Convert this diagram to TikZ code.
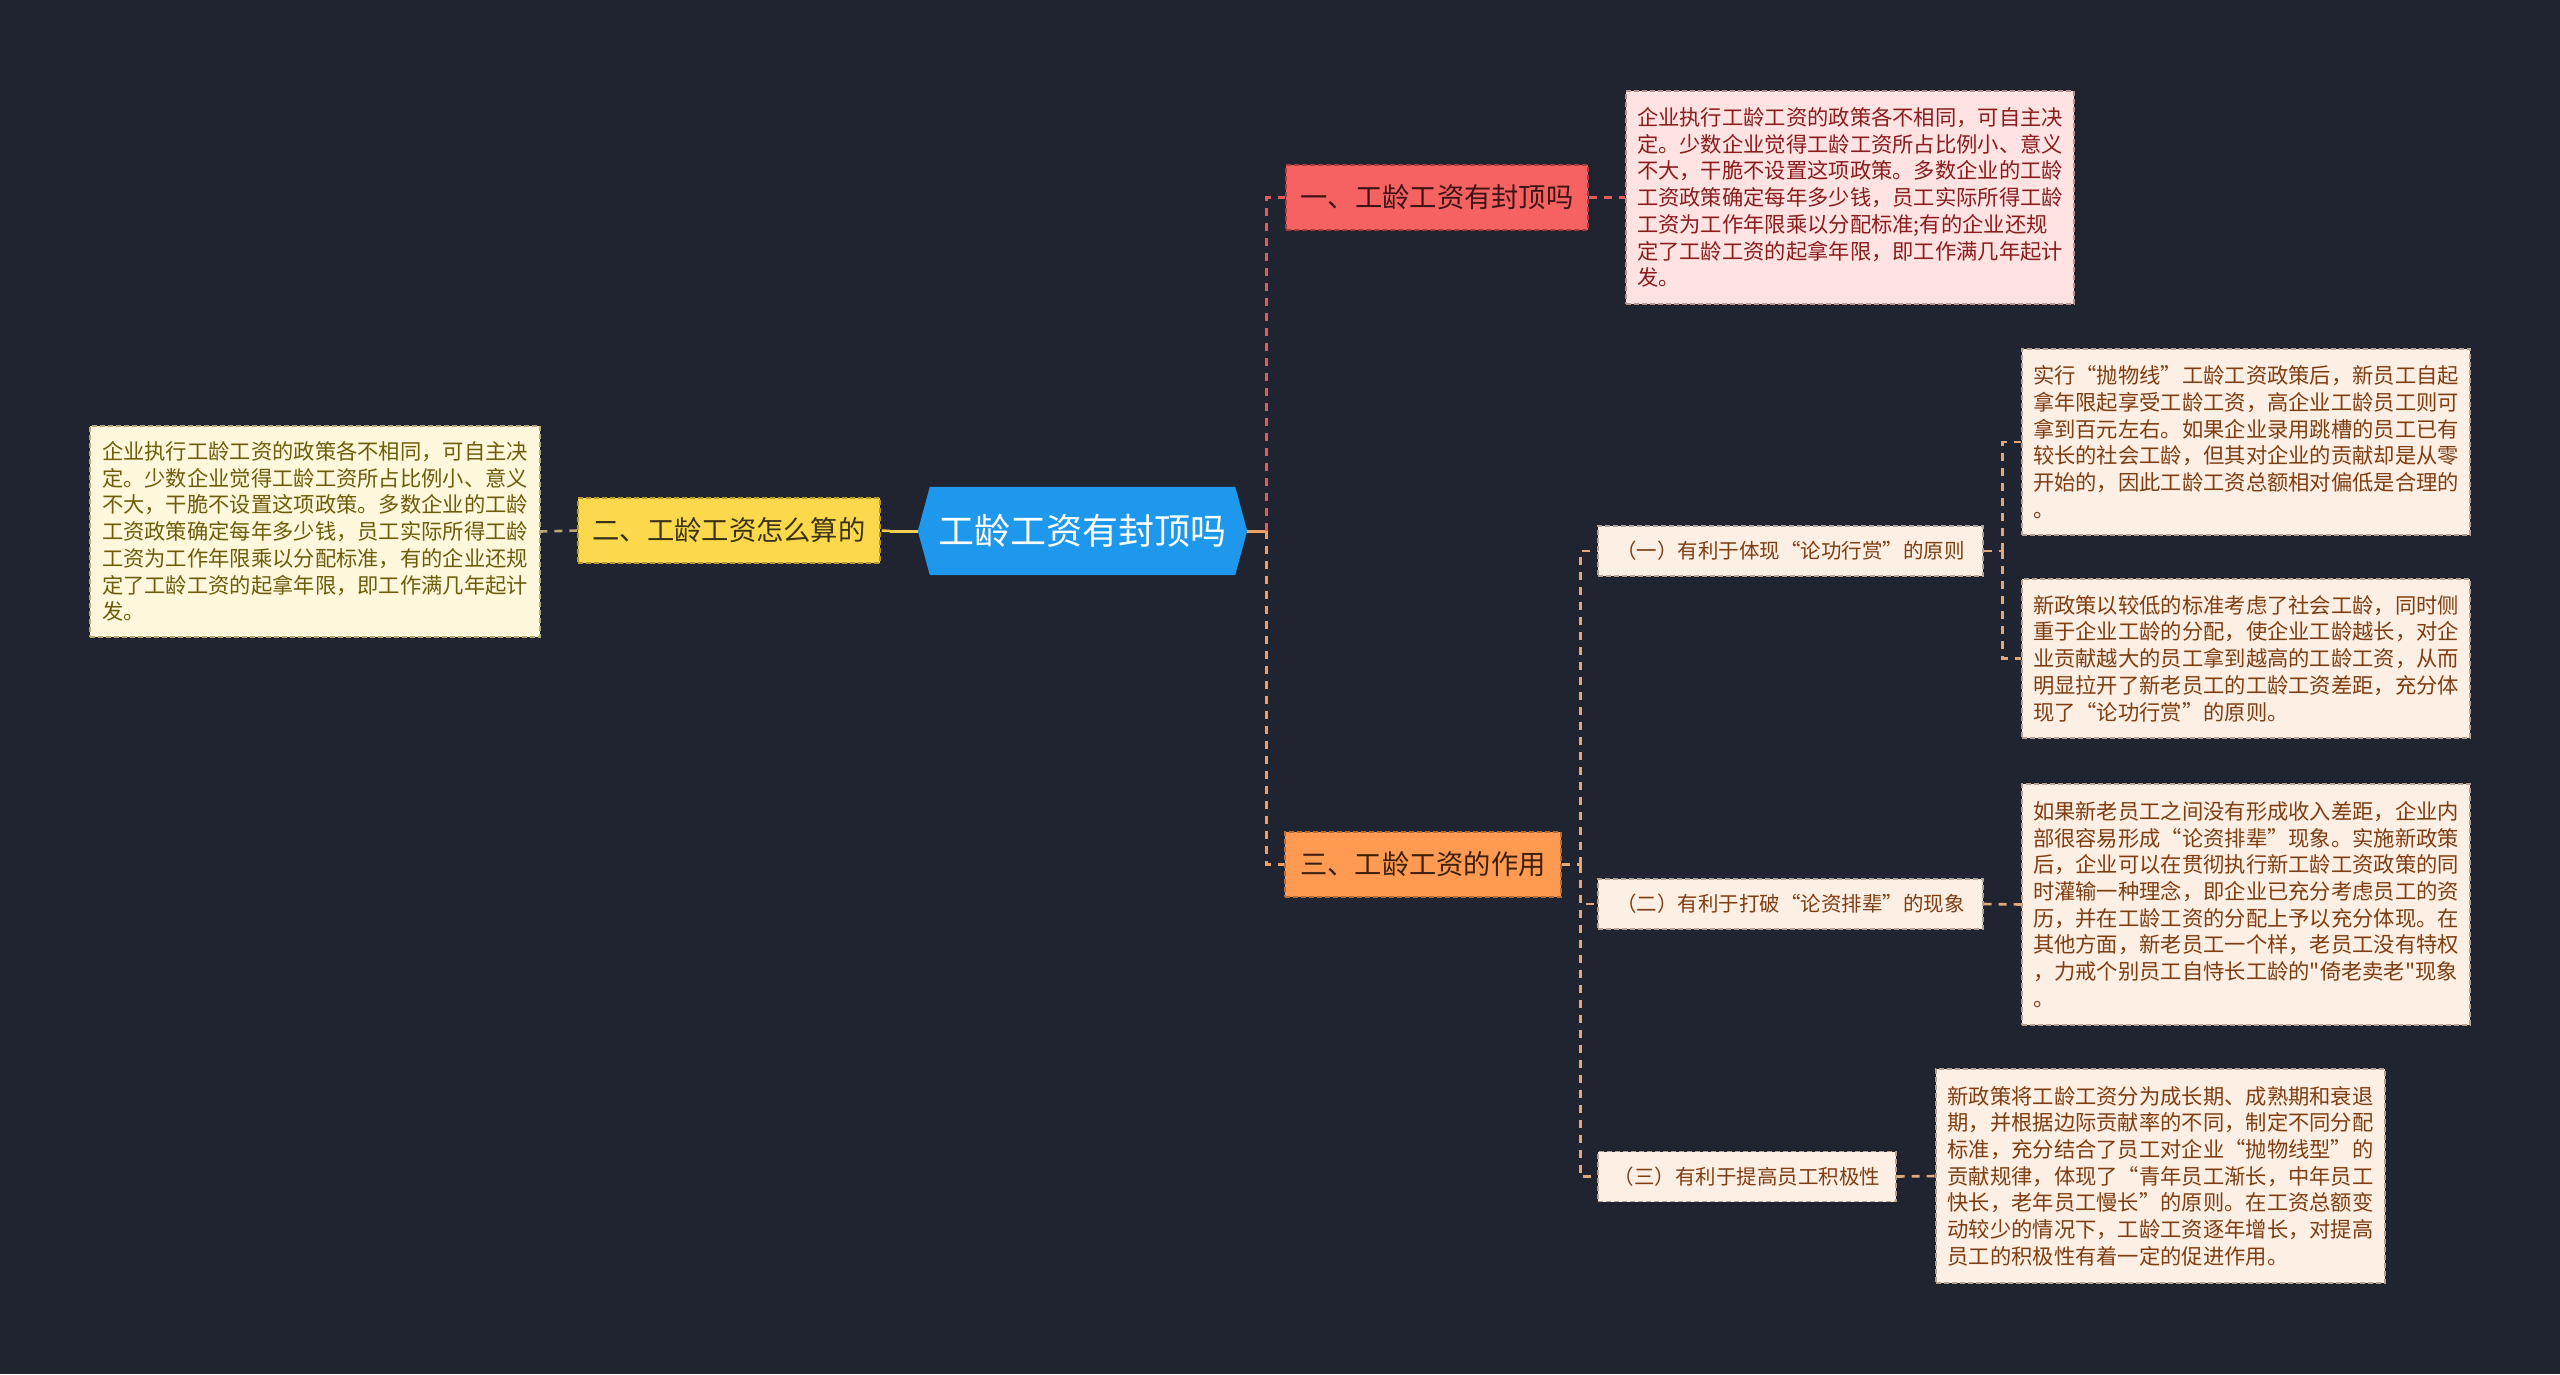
\documentclass[tikz,border=0pt]{standalone}
\usepackage{fontspec}
\setmainfont{Noto Sans CJK SC}
\newfontfamily\plaincjk{Noto Sans CJK SC}
\usetikzlibrary{calc}
\pgfdeclarelayer{bg}
\pgfsetlayers{bg,main}
\definecolor{bgc}{HTML}{202330}
\definecolor{hexc}{HTML}{1E98EC}
\definecolor{redf}{HTML}{F66262}
\definecolor{redb}{HTML}{A83C3C}
\definecolor{redt}{HTML}{3C1414}
\definecolor{redline}{HTML}{E25C5C}
\definecolor{yelf}{HTML}{FCD84C}
\definecolor{yelb}{HTML}{B8982A}
\definecolor{yelt}{HTML}{3A3215}
\definecolor{yelline}{HTML}{F2CF4E}
\definecolor{yelleaf}{HTML}{FFF8DC}
\definecolor{yelleafb}{HTML}{B8A878}
\definecolor{yelleaft}{HTML}{6F5C0B}
\definecolor{orf}{HTML}{FF9A52}
\definecolor{orb}{HTML}{B86A30}
\definecolor{ort}{HTML}{3C200A}
\definecolor{orline}{HTML}{F2A060}
\definecolor{pinkf}{HTML}{FFE3E3}
\definecolor{pinkb}{HTML}{B89090}
\definecolor{pinkt}{HTML}{8A1C1C}
\definecolor{peach}{HTML}{FDEFE4}
\definecolor{peachb}{HTML}{B8A090}
\definecolor{peacht}{HTML}{7F3D12}
\definecolor{tanline}{HTML}{E2A878}
\newcommand\qo{\makebox[1em][r]{“}}
\newcommand\qc{\makebox[1em][l]{”}}
\tikzset{
  x=1pt, y=-1pt,
  box/.style={draw, dash pattern=on 5pt off 3pt, line width=1.4pt, inner sep=0pt, align=center},
  title/.style={box, font=\fontsize{27.3}{32}\selectfont, minimum height=65pt},
  leaf/.style={box, align=left, font=\plaincjk\fontsize{21.3}{26.7}\selectfont, minimum width=448pt},
  subbox/.style={box, font=\fontsize{20.5}{24}\selectfont, minimum height=50pt, fill=peach, draw=peachb, text=peacht},
  con/.style={line width=2.6pt, dash pattern=on 8pt off 7pt},
  stub/.style={line width=3pt},
}
\begin{document}
\begin{tikzpicture}
\useasboundingbox (0,0) rectangle (2560,1374);

% central node
\node[inner sep=0pt, minimum width=329pt, minimum height=88pt, text=white,
      font=\fontsize{36}{40}\selectfont] (c) at (1082.5,531) {工龄工资有封顶吗};

% left branch
\node[title, fill=yelf, draw=yelb, text=yelt, minimum width=302pt] (b2) at (729,530.5) {二、工龄工资怎么算的};
\node[leaf, fill=yelleaf, draw=yelleafb, text=yelleaft, minimum width=450pt, minimum height=211pt] (l2) at (315,531.5)
 {企业执行工龄工资的政策各不相同，可自主决\\
  定。少数企业觉得工龄工资所占比例小、意义\\
  不大，干脆不设置这项政策。多数企业的工龄\\
  工资政策确定每年多少钱，员工实际所得工龄\\
  工资为工作年限乘以分配标准，有的企业还规\\
  定了工龄工资的起拿年限，即工作满几年起计\\
  发。};

% right branch one
\node[title, fill=redf, draw=redb, text=redt, minimum width=302pt] (b1) at (1437,197.5) {一、工龄工资有封顶吗};
\node[leaf, fill=pinkf, draw=pinkb, text=pinkt, minimum height=213pt] (l1) at (1850,197.5)
 {企业执行工龄工资的政策各不相同，可自主决\\
  定。少数企业觉得工龄工资所占比例小、意义\\
  不大，干脆不设置这项政策。多数企业的工龄\\
  工资政策确定每年多少钱，员工实际所得工龄\\
  工资为工作年限乘以分配标准;有的企业还规\\
  定了工龄工资的起拿年限，即工作满几年起计\\
  发。};

% right branch three
\node[title, fill=orf, draw=orb, text=ort, minimum width=276pt] (b3) at (1423,864.5) {三、工龄工资的作用};
\node[subbox, minimum width=385pt] (s1) at (1790.5,551) {（一）有利于体现\qo 论功行赏\qc 的原则};
\node[subbox, minimum width=385pt] (s2) at (1790.5,904) {（二）有利于打破\qo 论资排辈\qc 的现象};
\node[subbox, minimum width=298pt] (s3) at (1747,1176.5) {（三）有利于提高员工积极性};

\node[leaf, fill=peach, draw=peachb, text=peacht, minimum height=186pt] (a1) at (2246,442)
 {实行\qo 抛物线\qc 工龄工资政策后，新员工自起\\
  拿年限起享受工龄工资，高企业工龄员工则可\\
  拿到百元左右。如果企业录用跳槽的员工已有\\
  较长的社会工龄，但其对企业的贡献却是从零\\
  开始的，因此工龄工资总额相对偏低是合理的\\
  。};
\node[leaf, fill=peach, draw=peachb, text=peacht, minimum height=159pt] (a2) at (2246,658.5)
 {新政策以较低的标准考虑了社会工龄，同时侧\\
  重于企业工龄的分配，使企业工龄越长，对企\\
  业贡献越大的员工拿到越高的工龄工资，从而\\
  明显拉开了新老员工的工龄工资差距，充分体\\
  现了\qo 论功行赏\qc 的原则。};
\node[leaf, fill=peach, draw=peachb, text=peacht, minimum height=241pt] (a3) at (2246,904.5)
 {如果新老员工之间没有形成收入差距，企业内\\
  部很容易形成\qo 论资排辈\qc 现象。实施新政策\\
  后，企业可以在贯彻执行新工龄工资政策的同\\
  时灌输一种理念，即企业已充分考虑员工的资\\
  历，并在工龄工资的分配上予以充分体现。在\\
  其他方面，新老员工一个样，老员工没有特权\\
  ，力戒个别员工自恃长工龄的"倚老卖老"现象\\
  。};
\node[leaf, fill=peach, draw=peachb, text=peacht, minimum width=449pt, minimum height=214pt] (a4) at (2160.5,1176)
 {新政策将工龄工资分为成长期、成熟期和衰退\\
  期，并根据边际贡献率的不同，制定不同分配\\
  标准，充分结合了员工对企业\qo 抛物线型\qc 的\\
  贡献规律，体现了\qo 青年员工渐长，中年员工\\
  快长，老年员工慢长\qc 的原则。在工资总额变\\
  动较少的情况下，工龄工资逐年增长，对提高\\
  员工的积极性有着一定的促进作用。};

% background and hexagon
\begin{pgfonlayer}{bg}
\fill[bgc] (0,0) rectangle (2560,1374);
\fill[hexc] (c.west) -- ([xshift=12pt]c.north west) -- ([xshift=-12pt]c.north east)
  -- (c.east) -- ([xshift=-12pt]c.south east) -- ([xshift=12pt]c.south west) -- cycle;
\end{pgfonlayer}

% connectors: centre to right
\coordinate (jr) at ([xshift=19pt]c.east);
\draw[stub, orline] (c.east) -- (jr);
\draw[con, redline] (jr) |- (b1.west);
\draw[con, orline] (jr) |- (b3.west);
\draw[con, redline] (b1.east) -- (l1.west);

% centre to left
\coordinate (jl) at ([xshift=-28pt]c.west);
\draw[stub, yelline] (c.west) -- (jl);
\draw[con, yelline] (jl) -- (b2.east);
\draw[con, yelleafb] (b2.west) -- (l2.east);

% branch three
\coordinate (j3) at ([xshift=18.5pt]b3.east);
\draw[con, tanline] (b3.east) -- (j3);
\draw[con, tanline] (j3) |- (s1.west);
\draw[con, tanline] (j3) |- (s2.west);
\draw[con, tanline] (j3) |- (s3.west);

\coordinate (js1) at ([xshift=19pt]s1.east);
\draw[con, tanline] (s1.east) -- (js1);
\draw[con, tanline] (js1) |- (a1.west);
\draw[con, tanline] (js1) |- (a2.west);
\draw[con, tanline] (s2.east) -- (a3.west);
\draw[con, tanline] (s3.east) -- (a4.west);
\end{tikzpicture}
\end{document}
